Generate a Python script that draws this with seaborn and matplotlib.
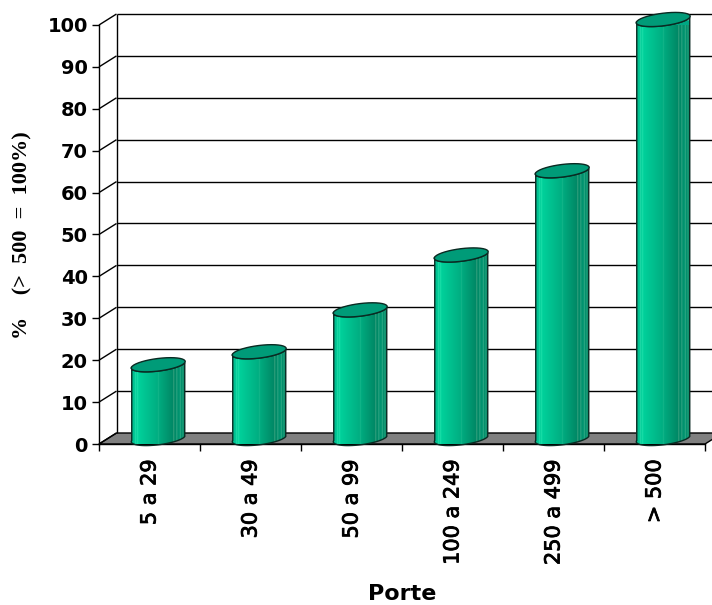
import numpy as np
import matplotlib
matplotlib.use("Agg")
import matplotlib.pyplot as plt
import matplotlib.patheffects as pe
from matplotlib.patches import Polygon
from matplotlib.path import Path
import seaborn as sns

categories = ["5 a 29", "30 a 49", "50 a 99", "100 a 249", "250 a 499", "> 500"]
values = [17.6, 20.7, 30.7, 43.8, 63.9, 100]
y_ticks = list(range(0, 101, 10))

sns.set_style("white")
plt.rcParams["font.family"] = ["DejaVu Sans"]
plt.rcParams["text.color"] = "black"
plt.rcParams["xtick.labelcolor"] = "black"
plt.rcParams["ytick.labelcolor"] = "black"

W, H = 712, 605
fig = plt.figure(figsize=(W / 100, H / 100), dpi=100, facecolor="white")
ax = fig.add_axes([99 / W, 1 - 444 / H, 606 / W, 419 / H])

sns.barplot(x=categories, y=values, color="#00A884", width=0.535,
            saturation=1, ax=ax, zorder=4)
ax.set_xlim(-0.5, 5.5)
ax.set_ylim(0, 100)

# Pixel-to-data scale factors for the oblique projection
ux = 6 / 606
uy = 100 / 419
depth_x, depth_y = 17.5 * ux, 11 * uy
mid_x, mid_y = depth_x / 2, depth_y / 2

# Back wall and floor
line_kw = dict(color="black", lw=1.0, clip_on=False, solid_capstyle="butt")
ax.add_patch(Polygon([(-0.5, 0), (-0.5 + depth_x, depth_y), (5.5 + depth_x, depth_y), (5.5, 0)],
                     closed=True, fc="#808080", ec="black", lw=1.0, clip_on=False, zorder=2))
for v in y_ticks:
    ax.plot([-0.5, -0.5 + depth_x], [v, v + depth_y], zorder=3, **line_kw)
    if v > 0:
        ax.plot([-0.5 + depth_x, 6.5], [v + depth_y] * 2, zorder=1, **line_kw)
ax.plot([-0.5 + depth_x] * 2, [depth_y, 100 + depth_y], zorder=3, **line_kw)

# Horizontal shading across a cylinder, with the pale facet streaks
stops = np.array([0.0, 0.12, 0.5, 0.78, 0.88, 1.0])
reds = np.array([0, 0, 0, 0, 0, 0])
greens = np.array([185, 210, 172, 134, 148, 132])
blues = np.array([140, 156, 128, 100, 112, 98])
xs = np.linspace(0, 1, 108)
shade = np.stack([np.interp(xs, stops, c) for c in (reds, greens, blues)], axis=1)
for pos, gain in [(0.08, 18), (0.12, 14), (0.50, 10), (0.78, 26), (0.84, 24), (0.90, 24), (0.95, 20)]:
    i = int(pos * 107)
    shade[i:i + 2] = np.clip(shade[i:i + 2] + np.array([gain * 2, gain, gain]), 0, 255)
shade = (shade / 255)[None, :, :]

# Cylinder ellipse axes, in data units
ax_a = np.array([26.5 * ux, 2.0 * uy])
ax_b = np.array([5.0 * ux, 6.8 * uy])


def arc(center, t0, t1, n=40):
    t = np.linspace(t0, t1, n)
    return center + np.outer(np.cos(t), ax_a) + np.outer(np.sin(t), ax_b)


for bar, value in zip(ax.patches, values):
    # Cylinders stand on the middle of the floor's depth
    bar.set_x(bar.get_x() + mid_x)
    bar.set_y(mid_y)
    x0, width = bar.get_x(), bar.get_width()
    cx = x0 + width / 2
    bottom = np.array([cx, mid_y])
    top = np.array([cx, mid_y + value])

    outline = np.vstack([arc(bottom, np.pi, 2 * np.pi), arc(top, 0, -np.pi)])
    clip = Path(np.vstack([outline, outline[0]]), closed=True)
    bar.set_clip_path(clip, ax.transData)
    bar.set_clip_box(None)
    ax.add_patch(Polygon(outline, closed=True, fc="none", ec="#0a2a22", lw=1.0,
                         clip_on=False, zorder=6))
    img = ax.imshow(shade, extent=(x0, x0 + width, 0, top[1] + 2), aspect="auto",
                    interpolation="bilinear", zorder=5)
    img.set_clip_path(clip, ax.transData)
    img.set_clip_box(None)
    ax.add_patch(Polygon(arc(top, 0, 2 * np.pi), closed=True, fc="#009B78", ec="#0a2a22",
                         lw=1.0, clip_on=False, zorder=7))

ax.set_xlim(-0.5, 5.5)
ax.set_ylim(0, 100)

for side in ("top", "right"):
    ax.spines[side].set_visible(False)
for side in ("left", "bottom"):
    ax.spines[side].set_color("black")
    ax.spines[side].set_linewidth(1.0)
    ax.spines[side].set_zorder(3)

# Ticks mark category boundaries; labels sit at the category centres
ax.set_xticks(np.arange(-0.5, 6, 1))
ax.set_xticklabels([])
ax.set_xticks(range(len(categories)), minor=True)
ax.set_xticklabels(categories, minor=True, rotation=90, fontsize=15, va="top", ha="center",
                   path_effects=[pe.withStroke(linewidth=0.6, foreground="black")])
ax.tick_params(axis="x", which="major", length=5, width=1, color="black", bottom=True)
ax.tick_params(axis="x", which="minor", length=0, pad=11, bottom=False)

ax.set_yticks(y_ticks)
ax.set_yticklabels([str(v) for v in y_ticks], fontsize=14, fontweight="bold")
ax.tick_params(axis="y", length=5, width=1, color="black", left=True, pad=3)

fig.text(402 / W, 1 - 594 / H, "Porte", fontsize=16, fontweight="bold",
         ha="center", va="center")
fig.text(22 / W, 1 - 235 / H, "%    (>  500  =  100%)", rotation=90, fontsize=16,
         fontweight="bold", family="Liberation Serif", ha="center", va="center")

fig.savefig("out.png", dpi=100, facecolor="white")
